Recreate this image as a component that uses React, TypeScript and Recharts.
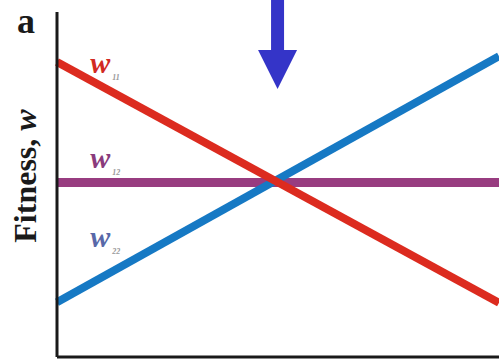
import { Line, LineChart, ReferenceDot, ReferenceLine, XAxis, YAxis } from "recharts";

// fitness of genotypes vs. frequency (schematic, two end points per line)
const freq = [0, 1];
const w11 = [0.855, 0.157];
const w12 = [0.506, 0.506];
const w22 = [0.159, 0.872];

const labels = [
  { key: "w11", sub: "11", x: 0.075, y: 0.823, color: "#d22a22" },
  { key: "w12", sub: "12", x: 0.075, y: 0.548, color: "#8a3b7c" },
  { key: "w22", sub: "22", x: 0.075, y: 0.319, color: "#5868a8" },
];

const arrowX = 0.499;
const arrowTop = 1.035;
const arrowTip = 0.777;

const SERIF = "'Liberation Serif', 'Times New Roman', serif";

const data = freq.map((f, i) => ({ f, w11: w11[i], w12: w12[i], w22: w22[i] }));

function Arrow(props: any) {
  const { x1, y1, y2 } = props;
  const head = 39;
  const shaft = 13;
  const neck = y2 - head;
  return (
    <polygon
      points={`${x1 - shaft / 2},${y1} ${x1 + shaft / 2},${y1} ${x1 + shaft / 2},${neck} ${x1 + head / 2},${neck} ${x1},${y2} ${x1 - head / 2},${neck} ${x1 - shaft / 2},${neck}`}
      fill="#3434c8"
    />
  );
}

function AxisTitle(props: any) {
  const { viewBox } = props;
  const cx = 36;
  const cy = viewBox.y + 164;
  return (
    <g fontFamily={SERIF} fontWeight="bold" fill="#1a1a1a">
      <text x={17} y={33} fontSize={36}>a</text>
      <text x={cx} y={cy} fontSize={32} textAnchor="middle" transform={`rotate(-90, ${cx}, ${cy})`}>
        Fitness, <tspan fontStyle="italic">w</tspan>
      </text>
    </g>
  );
}

export default function App() {
  return (
    <div style={{ position: "absolute", left: 0, top: 0, background: "#fff" }}>
      <LineChart width={499} height={359} data={data} margin={{ top: 12, right: 0, bottom: 1, left: 56 }}>
        <XAxis
          dataKey="f"
          type="number"
          domain={[0, 1]}
          height={1}
          tick={false}
          tickLine={false}
          axisLine={{ stroke: "#1a1a1a", strokeWidth: 3 }}
        />
        <YAxis
          type="number"
          domain={[0, 1]}
          width={1}
          tick={false}
          tickLine={false}
          axisLine={{ stroke: "#1a1a1a", strokeWidth: 3 }}
          label={{ content: AxisTitle }}
        />
        <Line dataKey="w12" stroke="#983c80" strokeWidth={9} dot={false} isAnimationActive={false} />
        <Line dataKey="w22" stroke="#1679c4" strokeWidth={8} dot={false} isAnimationActive={false} />
        <Line dataKey="w11" stroke="#dc2b1f" strokeWidth={8} dot={false} isAnimationActive={false} />
        <ReferenceLine
          segment={[
            { x: arrowX, y: arrowTop },
            { x: arrowX, y: arrowTip },
          ]}
          ifOverflow="visible"
          shape={Arrow}
        />
        {labels.map((l) => (
          <ReferenceDot
            key={l.key}
            x={l.x}
            y={l.y}
            ifOverflow="visible"
            shape={(p: any) => (
              <text x={p.cx} y={p.cy} fontFamily={SERIF} fontWeight="bold" fontStyle="italic" fill={l.color}>
                <tspan fontSize={30}>w</tspan>
                <tspan fontSize={8} dx={2} dy={7} fill="#999">{l.sub}</tspan>
              </text>
            )}
          />
        ))}
      </LineChart>
    </div>
  );
}
